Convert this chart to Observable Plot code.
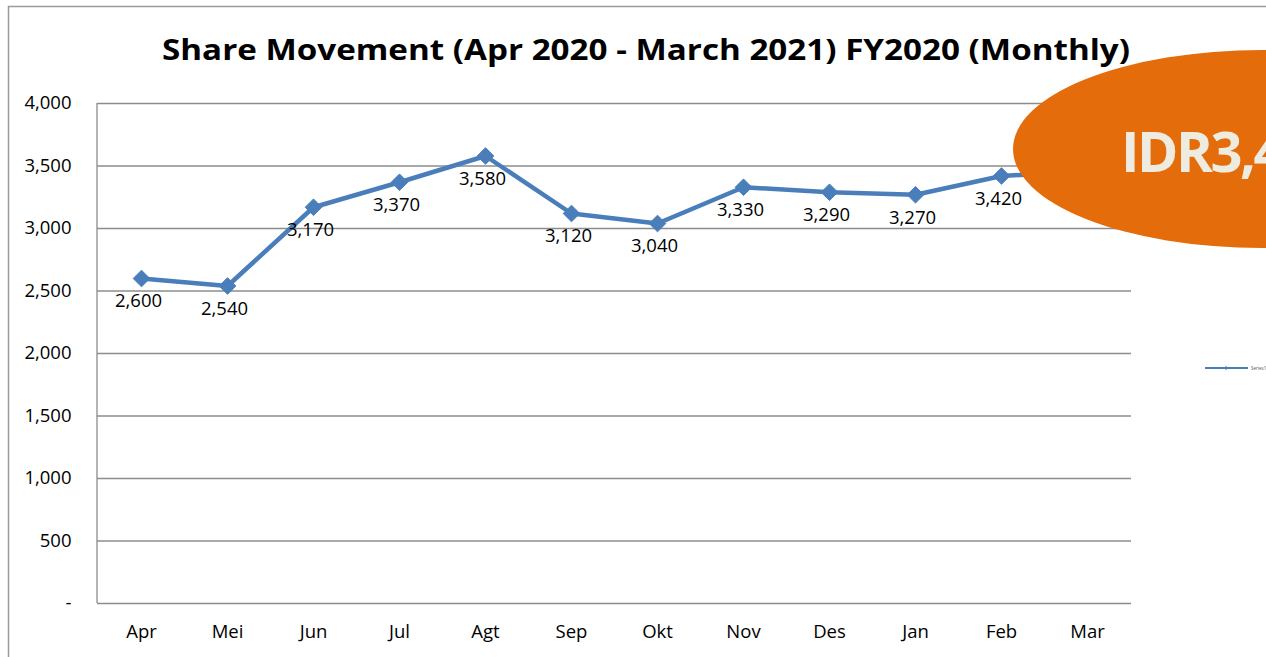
<!DOCTYPE html>
<html>
<head>
<meta charset="utf-8">
<script src="https://cdn.jsdelivr.net/npm/d3@7"></script>
<script src="https://cdn.jsdelivr.net/npm/@observablehq/plot@0.6"></script>
<style>
  html, body { margin: 0; padding: 0; background: #fff; overflow: hidden; }
  svg { display: block; }
</style>
</head>
<body>
<div id="chart"></div>
<script>
const months = ["Apr","Mei","Jun","Jul","Agt","Sep","Okt","Nov","Des","Jan","Feb","Mar"];
const prices = [2600, 2540, 3170, 3370, 3580, 3120, 3040, 3330, 3290, 3270, 3420, 3460];
const yTicks = [0, 500, 1000, 1500, 2000, 2500, 3000, 3500, 4000];
const titleText = "Share Movement (Apr 2020 - March 2021) FY2020 (Monthly)";
const calloutText = "IDR3,460";
const seriesName = "Series1";

const data = months.map((m, i) => ({month: m, price: prices[i]}));
const blue = "#4a7ebb";
const font = "'Open Sans', sans-serif";
const fmt = v => v === 0 ? "-" : d3.format(",")(v);

const W = 1266, H = 657;
const plot = Plot.plot({
  width: W, height: H,
  marginLeft: 97, marginRight: 135, marginTop: 103, marginBottom: 54,
  style: {fontFamily: font, fontSize: "18.5px", color: "#000", background: "transparent"},
  x: {type: "band", domain: months, label: null, tickSize: 0, tickPadding: 21, paddingInner: 0, paddingOuter: 0},
  y: {domain: [0, 4000], ticks: yTicks, tickFormat: fmt, label: null, tickSize: 0, tickPadding: 26},
  marks: [
    Plot.ruleY(yTicks.filter(d => d > 0), {stroke: "#8c8c8c", strokeWidth: 1.3, strokeOpacity: 1}),
    Plot.ruleY([0], {stroke: "#8c8c8c", strokeWidth: 1.3}),
    Plot.line(data, {x: "month", y: "price", stroke: blue, strokeWidth: 4.5, strokeLinejoin: "round"}),
    Plot.dot(data, {x: "month", y: "price", symbol: "diamond2", r: 7.5, fill: blue, stroke: blue, strokeWidth: 1}),
    Plot.text(data, {x: "month", y: "price", text: d => fmt(d.price), dy: 23, dx: -3, fill: "#000", fontSize: 18.5})
  ]
});
document.getElementById("chart").appendChild(plot);

const svg = d3.select(plot);
// left axis line
svg.append("line").attr("x1", 97).attr("x2", 97).attr("y1", 103).attr("y2", 603)
  .attr("stroke", "#8c8c8c").attr("stroke-width", 1.3);
// chart frame
svg.append("rect").attr("x", 8.5).attr("y", 6.5).attr("width", 1400).attr("height", 1000)
  .attr("fill", "none").attr("stroke", "#9a9a9a").attr("stroke-width", 1.5);
// title
svg.append("text").attr("x", 646).attr("y", 60).attr("text-anchor", "middle")
  .attr("font-family", font).attr("font-weight", "bold").attr("font-size", 29)
  .attr("textLength", 968).attr("lengthAdjust", "spacingAndGlyphs")
  .attr("fill", "#000").text(titleText);
// legend
svg.append("line").attr("x1", 1205).attr("x2", 1248).attr("y1", 368).attr("y2", 368)
  .attr("stroke", blue).attr("stroke-width", 2);
svg.append("path").attr("d", d3.symbol(d3.symbolSquare, 8)()).attr("transform", "translate(1226,368) rotate(45)").attr("fill", blue);
svg.append("text").attr("x", 1251).attr("y", 369.5).attr("text-anchor", "start").attr("font-size", 4.5).attr("font-family", font)
  .attr("fill", "#555").text(seriesName);
// callout ellipse
svg.append("ellipse").attr("cx", 1262).attr("cy", 149).attr("rx", 249).attr("ry", 99)
  .attr("fill", "#e46c0a");
svg.append("text").attr("x", 1121).attr("y", 172).attr("text-anchor", "start").attr("font-family", font).attr("font-weight", "bold")
  .attr("font-size", 56).attr("letter-spacing", -2.5).attr("fill", "#eeece1").text(calloutText);
</script>
</body>
</html>
